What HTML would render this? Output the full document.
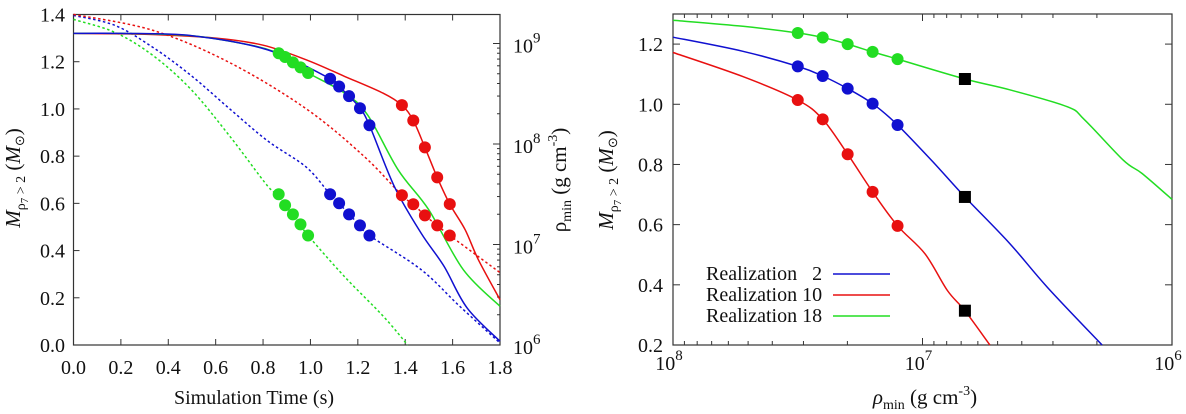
<!DOCTYPE html>
<html><head><meta charset="utf-8"><style>
body{margin:0;background:#fff}
svg{display:block;font-family:"Liberation Serif",serif}
text{font-family:"Liberation Serif",serif}
</style></head><body>
<svg id="c" width="1186" height="414" viewBox="0 0 1186 414"></svg>
<script>
// ---- Left panel data ----
const leftXTicks=[0,0.2,0.4,0.6,0.8,1.0,1.2,1.4,1.6,1.8];
const leftYTicks=[0,0.2,0.4,0.6,0.8,1.0,1.2,1.4];
const rhoTicks=[6,7,8,9];
const blueT=[0,0.2,0.5,0.82,1.083,1.121,1.163,1.209,1.249,1.354,1.467,1.564,1.661,1.8];
const blueM=[1.32,1.32,1.31,1.25,1.128,1.095,1.054,1.003,0.931,0.672,0.474,0.333,0.157,0.016];
const blueDotT=[1.083,1.121,1.163,1.209,1.249];
const blueDotM=[1.128,1.095,1.054,1.003,0.931];
const blueRhoT=[0,0.175,0.336,0.497,0.659,0.82,0.982,1.083,1.121,1.163,1.209,1.249,1.467,1.628,1.8];
const blueRho=[9.28,9.18,8.96,8.68,8.35,8.03,7.77,7.50,7.41,7.30,7.19,7.09,6.75,6.39,6.02];
const blueDotRho=[7.50,7.41,7.30,7.19,7.09];
const redT=[0,0.3,0.6,0.8,0.982,1.144,1.306,1.386,1.434,1.483,1.535,1.588,1.653,1.709,1.8];
const redM=[1.32,1.316,1.30,1.27,1.208,1.138,1.067,1.016,0.951,0.837,0.710,0.597,0.488,0.361,0.192];
const redDotT=[1.386,1.434,1.483,1.535,1.588];
const redDotM=[1.016,0.951,0.837,0.710,0.597];
const redRhoT=[0,0.336,0.659,0.982,1.225,1.386,1.434,1.483,1.535,1.588,1.709,1.8];
const redRho=[9.29,9.13,8.81,8.35,7.88,7.49,7.40,7.29,7.19,7.09,6.88,6.72];
const redDotRho=[7.49,7.40,7.29,7.19,7.09];
const greenT=[0,0.2,0.5,0.75,0.866,0.893,0.926,0.958,0.990,1.144,1.241,1.370,1.499,1.645,1.8];
const greenM=[1.32,1.32,1.31,1.27,1.236,1.220,1.197,1.176,1.152,1.067,0.975,0.742,0.573,0.319,0.164];
const greenDotT=[0.866,0.893,0.926,0.958,0.990];
const greenDotM=[1.236,1.220,1.197,1.176,1.152];
const greenRhoT=[0,0.175,0.336,0.497,0.659,0.82,0.866,0.893,0.926,0.958,0.990,1.144,1.306,1.41];
const greenRho=[9.24,9.11,8.88,8.54,8.08,7.58,7.50,7.39,7.30,7.20,7.09,6.68,6.29,6.0];
const greenDotRho=[7.50,7.39,7.30,7.20,7.09];
// ---- Right panel data ----
const rYTicks=[0.2,0.4,0.6,0.8,1.0,1.2];
const rXTicks=[8,7,6];
const gR=[8,7.72,7.50,7.40,7.30,7.20,7.10,6.83,6.65,6.42,6.35,6.195,6.12,6.0];
const gM=[1.279,1.259,1.237,1.222,1.2,1.174,1.15,1.084,1.048,0.992,0.948,0.814,0.77,0.684];
const bR=[8,7.72,7.50,7.40,7.30,7.20,7.10,6.96,6.83,6.65,6.5,6.28];
const bM=[1.223,1.176,1.126,1.094,1.052,1.002,0.931,0.81,0.692,0.537,0.392,0.2];
const rR=[8,7.72,7.50,7.40,7.30,7.20,7.10,6.99,6.9,6.83,6.73];
const rM=[1.172,1.092,1.014,0.95,0.834,0.709,0.596,0.503,0.381,0.314,0.2];
const dotR=[7.50,7.40,7.30,7.20,7.10];
const gDotM=[1.237,1.222,1.2,1.174,1.15];
const bDotM=[1.126,1.094,1.052,1.002,0.931];
const rDotM=[1.014,0.95,0.834,0.709,0.596];
const sqR=[6.83,6.83,6.83];
const sqM=[1.084,0.692,0.314];
const legendLabels=["Realization   2","Realization 10","Realization 18"];

const BLUE="#1010d0",RED="#e81010",GREEN="#22dd22";
const FONT='"Liberation Serif", serif';
const S="http://www.w3.org/2000/svg";
const svg=document.getElementById('c');
function el(t,a,p){const e=document.createElementNS(S,t);for(const k in a)e.setAttribute(k,a[k]);(p||svg).appendChild(e);return e;}
const L={x0:73.5,x1:500,y0:345,y1:14.5};
const lx=t=>L.x0+t/1.8*(L.x1-L.x0);
const ly=m=>L.y0-m/1.4*(L.y0-L.y1);
const lr=r=>345-(r-6)*100.5;
const R={x0:673,x1:1172,y0:345,y1:14};
const rx=r=>R.x0+(8-r)/2*(R.x1-R.x0);
const ry=m=>R.y0-(m-0.2)/1.1*(R.y0-R.y1);
function smooth(P){
  let d='M'+P[0][0].toFixed(1)+','+P[0][1].toFixed(1);
  for(let i=0;i<P.length-1;i++){
    const p0=P[i-1]||P[i],p1=P[i],p2=P[i+1],p3=P[i+2]||P[i+1];
    const c1=[p1[0]+(p2[0]-p0[0])/6,p1[1]+(p2[1]-p0[1])/6];
    const c2=[p2[0]-(p3[0]-p1[0])/6,p2[1]-(p3[1]-p1[1])/6];
    d+='C'+c1.map(v=>v.toFixed(1)).join(',')+' '+c2.map(v=>v.toFixed(1)).join(',')+' '+p2[0].toFixed(1)+','+p2[1].toFixed(1);
  }
  return d;
}
function line(xs,ys,fx,fy,col,name,dash){
  const P=xs.map((v,i)=>[fx(v),fy(ys[i])]);
  const p=el('path',{d:smooth(P),fill:'none',stroke:col,'stroke-width':1.5});
  if(dash)p.setAttribute('stroke-dasharray','2.5,2.5');
  
  
}
function dots(xs,ys,fx,fy,col,name){
  xs.forEach((v,i)=>{const c=el('circle',{cx:fx(v),cy:fy(ys[i]),r:6,fill:col});
  
  });
}
function txt(x,y,s,anchor,size,name){const t=el('text',{x:x,y:y,'text-anchor':anchor,'font-size':size||20,fill:'#111','font-family':FONT});t.innerHTML=s;

return t;}
// ---- Left panel ----
const lf=el('rect',{x:L.x0,y:L.y1,width:L.x1-L.x0,height:L.y0-L.y1,fill:'none',stroke:'#333','stroke-width':1.2});


leftXTicks.forEach(t=>{const x=lx(t);el('line',{x1:x,x2:x,y1:L.y0,y2:L.y0-6,stroke:'#333'});el('line',{x1:x,x2:x,y1:L.y1,y2:L.y1+6,stroke:'#333'});
 txt(x,374,t.toFixed(1),'middle',20,'x-tick-label');});
leftYTicks.forEach(m=>{const y=ly(m);el('line',{x1:L.x0,x2:L.x0+6,y1:y,y2:y,stroke:'#333'});
 txt(65,y+7,m.toFixed(1),'end',20,'y-tick-label');});
rhoTicks.forEach(r=>{const y=lr(r);el('line',{x1:L.x1,x2:L.x1-7,y1:y,y2:y,stroke:'#333'});
 for(let k=2;k<10&&r<9.3;k++){const yy=lr(r+Math.log10(k));if(yy>L.y1)el('line',{x1:L.x1,x2:L.x1-3,y1:yy,y2:yy,stroke:'#333'});}
 txt(513,y+9,'10<tspan dy="-10" font-size="15">'+r+'</tspan>','start',20,'rho-tick-label');});
txt(254,404,'Simulation Time (s)','middle',20,'x-axis-title');
let yt=txt(0,0,'<tspan font-style="italic">M</tspan><tspan dy="5" font-size="14">ρ<tspan font-size="11" dy="3">7</tspan><tspan dy="-3"> &gt; 2</tspan></tspan><tspan dy="-5"> (<tspan font-style="italic">M</tspan><tspan font-size="13" dy="4">⊙</tspan><tspan dy="-4">)</tspan></tspan>','middle',21,'left-y-axis-title');
yt.setAttribute('transform','translate(20,178) rotate(-90)');
let rt=txt(0,0,'ρ<tspan font-size="14" dy="5">min</tspan><tspan dy="-5">  (g cm</tspan><tspan dy="-9" font-size="14">-3</tspan><tspan dy="9">)</tspan>','middle',21,'right-y-axis-title');
rt.setAttribute('transform','translate(566,180) rotate(-90)');
line(greenRhoT,greenRho,lx,lr,GREEN,'green-rho-line',1);
line(blueRhoT,blueRho,lx,lr,BLUE,'blue-rho-line',1);
line(redRhoT,redRho,lx,lr,RED,'red-rho-line',1);
line(redT,redM,lx,ly,RED,'red-mass-line');
line(greenT,greenM,lx,ly,GREEN,'green-mass-line');
line(blueT,blueM,lx,ly,BLUE,'blue-mass-line');
dots(greenDotT,greenDotM,lx,ly,GREEN,'green-mass-dot');
dots(blueDotT,blueDotM,lx,ly,BLUE,'blue-mass-dot');
dots(redDotT,redDotM,lx,ly,RED,'red-mass-dot');
dots(greenDotT,greenDotRho,lx,lr,GREEN,'green-rho-dot');
dots(blueDotT,blueDotRho,lx,lr,BLUE,'blue-rho-dot');
dots(redDotT,redDotRho,lx,lr,RED,'red-rho-dot');
// ---- Right panel ----
const rf=el('rect',{x:R.x0,y:R.y1,width:R.x1-R.x0,height:R.y0-R.y1,fill:'none',stroke:'#333','stroke-width':1.2});


rYTicks.forEach(m=>{const y=ry(m);el('line',{x1:R.x0,x2:R.x0+7,y1:y,y2:y,stroke:'#333'});el('line',{x1:R.x1,x2:R.x1-7,y1:y,y2:y,stroke:'#333'});
 txt(663,y+7,m.toFixed(1),'end',20,'right-y-tick-label');});
rXTicks.forEach(r=>{const x=rx(r);el('line',{x1:x,x2:x,y1:R.y0,y2:R.y0-7,stroke:'#333'});el('line',{x1:x,x2:x,y1:R.y1,y2:R.y1+7,stroke:'#333'});
 if(r>6)for(let k=2;k<10;k++){const xx=rx(r-1+Math.log10(k));el('line',{x1:xx,x2:xx,y1:R.y0,y2:R.y0-4,stroke:'#333'});el('line',{x1:xx,x2:xx,y1:R.y1,y2:R.y1+4,stroke:'#333'});}
 txt(x-4,370,'10<tspan dy="-10" font-size="15">'+r+'</tspan>','middle',20,'right-x-tick-label');});
txt(925,404,'<tspan font-style="italic">ρ</tspan><tspan font-size="14" dy="5">min</tspan><tspan dy="-5">  (g cm</tspan><tspan dy="-9" font-size="14">-3</tspan><tspan dy="9">)</tspan>','middle',21,'right-x-axis-title');
let yt2=txt(0,0,'<tspan font-style="italic">M</tspan><tspan dy="5" font-size="14">ρ<tspan font-size="11" dy="3">7</tspan><tspan dy="-3"> &gt; 2</tspan></tspan><tspan dy="-5"> (<tspan font-style="italic">M</tspan><tspan font-size="13" dy="4">⊙</tspan><tspan dy="-4">)</tspan></tspan>','middle',21,'right-y-axis-title-mass');
yt2.setAttribute('transform','translate(613,180) rotate(-90)');
line(gR,gM,rx,ry,GREEN,'green-realization-line');
line(bR,bM,rx,ry,BLUE,'blue-realization-line');
line(rR,rM,rx,ry,RED,'red-realization-line');
dots(dotR,gDotM,rx,ry,GREEN,'green-realization-dot');
dots(dotR,bDotM,rx,ry,BLUE,'blue-realization-dot');
dots(dotR,rDotM,rx,ry,RED,'red-realization-dot');
sqR.forEach((r,i)=>{const s=el('rect',{x:rx(r)-6,y:ry(sqM[i])-6,width:12,height:12,fill:'#000'});
 
 });
const lcols=[BLUE,RED,GREEN];
legendLabels.forEach((s,i)=>{const y=273+i*21;
 txt(706,y+7,s.replace(/ /g,'&#160;'),'start',20,'legend-label');
 const l=el('line',{x1:833,x2:890,y1:y+1,y2:y+1,stroke:lcols[i],'stroke-width':1.5});
 
 });
</script>
</body></html>
